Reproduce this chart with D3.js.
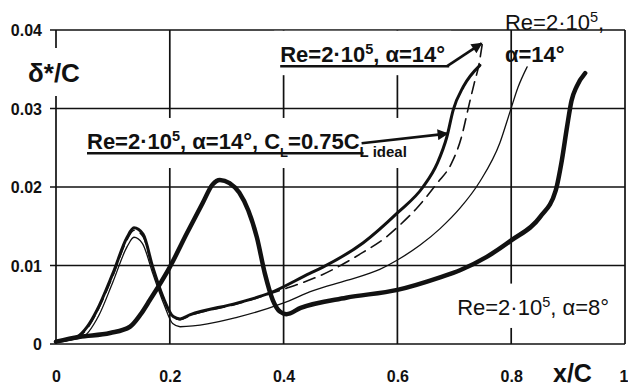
<!DOCTYPE html>
<html><head><meta charset="utf-8">
<script src="https://cdn.jsdelivr.net/npm/d3@7"></script>
<style>
html,body{margin:0;padding:0;background:#fff;}
svg{display:block;font-family:"Liberation Sans",Arial,Helvetica,sans-serif;}
</style></head><body>
<svg id="chart" width="628" height="386"></svg>
<script>
// Displacement thickness δ*/C along the chord x/C, Re = 2·10^5
// α = 8°
const xAlpha8 = [0, 0.04, 0.095, 0.13, 0.148, 0.165, 0.2, 0.23, 0.258, 0.275, 0.288, 0.305, 0.322, 0.338, 0.353, 0.367, 0.381, 0.394, 0.405, 0.43, 0.51, 0.6, 0.675, 0.71, 0.757, 0.8, 0.851, 0.878, 0.889, 0.898, 0.906, 0.915, 0.93];
const dAlpha8 = [0.0003, 0.0009, 0.0014, 0.0022, 0.0037, 0.0056, 0.0098, 0.0141, 0.018, 0.0203, 0.0209, 0.0205, 0.0193, 0.017, 0.0136, 0.009, 0.0056, 0.0041, 0.0038, 0.0046, 0.0059, 0.0069, 0.0085, 0.0094, 0.0111, 0.0132, 0.0162, 0.0195, 0.0234, 0.0276, 0.031, 0.0328, 0.0345];
// α = 14°, C_L = 0.75 C_L ideal
const xCl075 = [0, 0.037, 0.055, 0.072, 0.1, 0.125, 0.137, 0.153, 0.17, 0.188, 0.206, 0.218, 0.235, 0.318, 0.376, 0.446, 0.469, 0.54, 0.6, 0.645, 0.67, 0.687, 0.698, 0.716, 0.745];
const dCl075 = [0.0003, 0.0009, 0.0022, 0.0043, 0.009, 0.0136, 0.0148, 0.014, 0.0098, 0.006, 0.0035, 0.0032, 0.0037, 0.0052, 0.0065, 0.009, 0.0098, 0.0129, 0.0167, 0.02, 0.023, 0.0264, 0.0298, 0.0328, 0.0355];
// α = 14° (dashed)
const xAlpha14d = [0, 0.037, 0.055, 0.072, 0.1, 0.125, 0.137, 0.153, 0.17, 0.188, 0.206, 0.218, 0.235, 0.318, 0.376, 0.405, 0.429, 0.467, 0.517, 0.54, 0.58, 0.599, 0.634, 0.67, 0.695, 0.712, 0.726, 0.735, 0.743, 0.75];
const dAlpha14d = [0.0003, 0.0008, 0.002, 0.0041, 0.0087, 0.0133, 0.0145, 0.0137, 0.0095, 0.0058, 0.0034, 0.0031, 0.0036, 0.0051, 0.0064, 0.0071, 0.0077, 0.0088, 0.0107, 0.0117, 0.0136, 0.0148, 0.0173, 0.0205, 0.023, 0.0262, 0.0305, 0.0332, 0.0355, 0.0386];
// α = 14° (thin)
const xAlpha14t = [0, 0.045, 0.075, 0.1, 0.125, 0.137, 0.152, 0.17, 0.19, 0.205, 0.218, 0.318, 0.399, 0.452, 0.511, 0.569, 0.6, 0.64, 0.675, 0.71, 0.745, 0.78, 0.798, 0.812, 0.828];
const dAlpha14t = [0.0003, 0.0008, 0.0036, 0.0079, 0.0124, 0.0136, 0.0128, 0.009, 0.005, 0.0026, 0.0022, 0.0034, 0.0052, 0.0068, 0.0081, 0.0095, 0.0107, 0.0126, 0.0147, 0.0173, 0.0207, 0.0256, 0.0296, 0.0327, 0.0353];

const xTickValues = [0, 0.2, 0.4, 0.6, 0.8, 1];
const xTickLabels = ["0", "0.2", "0.4", "0.6", "0.8", "1"];
const yTickValues = [0, 0.01, 0.02, 0.03, 0.04];
const yTickLabels = ["0", "0.01", "0.02", "0.03", "0.04"];

const ink = "#111";
const svg = d3.select("#chart");
const x = d3.scaleLinear().domain([0, 1]).range([56, 625]);
const y = d3.scaleLinear().domain([0, 0.04]).range([344, 30]);

// grid and frame
const grid = svg.append("g").attr("stroke", ink).attr("stroke-width", 1.7);
grid.selectAll("line.h").data(yTickValues).join("line").attr("class", "h")
  .attr("x1", x(0) - 6).attr("x2", x(1)).attr("y1", d => y(d)).attr("y2", d => y(d));
grid.selectAll("line.v").data(xTickValues).join("line").attr("class", "v")
  .attr("x1", d => x(d)).attr("x2", d => x(d)).attr("y1", y(0.04)).attr("y2", y(0));

// white gaps in the vertical grid behind the annotations
const masks = svg.append("g");

// curves
const line = d3.line().curve(d3.curveMonotoneX).x(d => x(d[0])).y(d => y(d[1]));
const series = [
  {xs: xAlpha14t, ys: dAlpha14t, w: 1.3, dash: null},
  {xs: xAlpha14d, ys: dAlpha14d, w: 1.6, dash: "12,7"},
  {xs: xCl075, ys: dCl075, w: 3, dash: null},
  {xs: xAlpha8, ys: dAlpha8, w: 4.5, dash: null}
];
svg.append("g").selectAll("path").data(series).join("path")
  .attr("d", s => line(s.xs.map((v, i) => [v, s.ys[i]])))
  .attr("fill", "none").attr("stroke", ink)
  .attr("stroke-width", s => s.w)
  .attr("stroke-dasharray", s => s.dash)
  .attr("stroke-linejoin", "round").attr("stroke-linecap", "round");

// axis tick labels
const yAxis = svg.append("g").attr("transform", `translate(${x(0)},0)`)
  .call(d3.axisLeft(y).tickValues(yTickValues).tickFormat((d, i) => yTickLabels[i]).tickSize(0).tickPadding(14));
yAxis.select(".domain").remove();
yAxis.attr("font-family", null);
yAxis.selectAll("text").attr("font-size", 16).attr("font-weight", "bold").attr("fill", ink)
  .attr("dy", "0.36em");

const xAxis = svg.append("g").attr("transform", `translate(0,${y(0)})`)
  .call(d3.axisBottom(x).tickValues(xTickValues).tickFormat((d, i) => xTickLabels[i]).tickSize(0));
xAxis.select(".domain").remove();
xAxis.attr("font-family", null);
xAxis.selectAll("text").attr("font-size", 16).attr("font-weight", "bold").attr("fill", ink)
  .attr("y", 38).attr("dy", 0)
  .attr("text-anchor", (d, i) => i === xTickValues.length - 1 ? "end" : "middle")
  .attr("x", (d, i) => i === xTickValues.length - 1 ? 3 : 0);

// axis titles
svg.append("text").attr("x", 28).attr("y", 82).attr("font-size", 26).attr("font-weight", "bold")
  .attr("fill", ink).attr("class", "mask").text("δ*/C");
svg.append("text").attr("x", 553).attr("y", 382).attr("font-size", 25).attr("font-weight", "bold")
  .attr("fill", ink).text("x/C");

// rich text helper: parts = [text, {sup}, {sub}]
function rich(g, px, py, size, weight, parts) {
  const t = g.append("text").attr("x", px).attr("y", py).attr("font-size", size)
    .attr("font-weight", weight).attr("fill", ink);
  let shift = 0;
  parts.forEach(p => {
    const ts = t.append("tspan");
    let target = 0, fs = size;
    if (typeof p === "string") { ts.text(p); }
    else if (p.sup) { ts.text(p.sup); fs = size * 0.66; target = -size * 0.38; }
    else if (p.sub) { ts.text(p.sub); fs = p.fs || size * 0.66; target = size * 0.35; }
    ts.attr("font-size", fs).attr("dy", target - shift);
    shift = target;
  });
  return t;
}

const ann = svg.append("g");
const lab1 = rich(ann, x(0.394), y(0.0359), 22, "bold", ["Re=2·10", {sup: "5"}, ", α=14°"]);
const lab2 = rich(ann, x(0.0545), y(0.0248), 22, "bold",
  ["Re=2·10", {sup: "5"}, ", α=14°, C", {sub: "L", fs: 13}, "=0.75C", {sub: "L ideal", fs: 15}]);
const lab3 = rich(ann, x(0.705), y(0.0037), 22, "normal", ["Re=2·10", {sup: "5"}, ", α=8°"]);
rich(ann, x(0.789), y(0.04), 22, "normal", ["Re=2·10", {sup: "5"}, ","]);
rich(ann, x(0.789), y(0.0359), 22, "bold", ["α=14°"]);

// gaps in the grid around labels
[lab1, lab2, lab3, svg.select("text.mask")].forEach(t => {
  const b = t.node().getBBox();
  masks.append("rect").attr("x", b.x - 6).attr("y", b.y - 10)
    .attr("width", b.width + 12).attr("height", b.height + 18).attr("fill", "#fff");
});

// underlines
function underline(t, dropLast) {
  const b = t.node().getBBox();
  let w = b.width;
  if (dropLast) {
    const spans = t.selectAll("tspan").nodes();
    w -= spans[spans.length - 1].getComputedTextLength();
  }
  ann.append("line").attr("x1", b.x).attr("x2", b.x + w + 4)
    .attr("y1", +t.attr("y") + 4).attr("y2", +t.attr("y") + 4)
    .attr("stroke", ink).attr("stroke-width", 2.6);
  return b.x + w + 4;
}
const end1 = underline(lab1, false);
const end2 = underline(lab2, true);

// arrows pointing at the curves
svg.append("defs").append("marker").attr("id", "head").attr("viewBox", "0 0 10 10")
  .attr("refX", 9).attr("refY", 5).attr("markerWidth", 5).attr("markerHeight", 4.2)
  .attr("orient", "auto").attr("markerUnits", "strokeWidth")
  .append("path").attr("d", "M0,0 L10,5 L0,10 Z").attr("fill", ink);
ann.append("line").attr("x1", end1 - 2).attr("y1", +lab1.attr("y") + 4)
  .attr("x2", x(0.748)).attr("y2", y(0.0383))
  .attr("stroke", ink).attr("stroke-width", 2.6).attr("marker-end", "url(#head)");
ann.append("line").attr("x1", end2 - 2).attr("y1", +lab2.attr("y") - 6)
  .attr("x2", x(0.688)).attr("y2", y(0.0268))
  .attr("stroke", ink).attr("stroke-width", 2.6).attr("marker-end", "url(#head)");
</script>
</body></html>
